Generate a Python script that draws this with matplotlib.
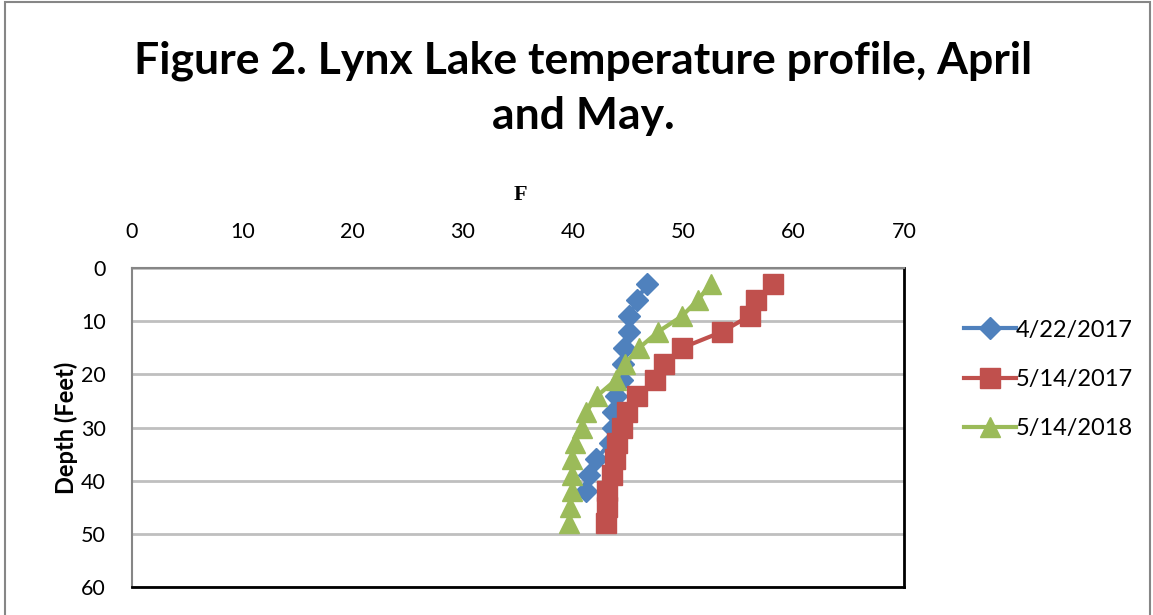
import matplotlib.pyplot as plt
from matplotlib.patches import Rectangle

# depth (feet) and temperature (F) for each profile
depth_a = [3, 6, 9, 12, 15, 18, 21, 24, 27, 30, 33, 36, 39, 42]
temp_a = [46.7, 45.8, 45.1, 45.1, 44.6, 44.5, 44.4, 43.9, 43.6, 43.6, 43.3, 42.1, 41.4, 41.2]

depth_b = [3, 6, 9, 12, 15, 18, 21, 24, 27, 30, 33, 36, 39, 42, 45, 48]
temp_b = [58.1, 56.6, 56.0, 53.5, 49.9, 48.2, 47.4, 45.8, 44.9, 44.4, 44.0, 43.8, 43.5, 43.1, 43.1, 43.0]

depth_c = [3, 6, 9, 12, 15, 18, 21, 24, 27, 30, 33, 36, 39, 42, 45, 48]
temp_c = [52.5, 51.3, 49.9, 47.7, 46.0, 44.7, 43.9, 42.2, 41.2, 40.8, 40.2, 39.9, 39.9, 39.9, 39.7, 39.6]

labels = ['4/22/2017', '5/14/2017', '5/14/2018']

plt.rcParams['font.family'] = ['Lato', 'DejaVu Sans']

fig = plt.figure(figsize=(11.53, 6.15), dpi=100)
ax = fig.add_axes([0.1145, 0.0455, 0.6695, 0.5187])

ax.plot(temp_a, depth_a, color='#4F81BD', lw=3, marker='D', ms=11, label=labels[0], zorder=3)
ax.plot(temp_b, depth_b, color='#C0504D', lw=3, marker='s', ms=14, label=labels[1], zorder=4)
ax.plot(temp_c, depth_c, color='#9BBB59', lw=3, marker='^', ms=15, label=labels[2], zorder=5)

ax.set_xlim(0, 70)
ax.set_ylim(60, 0)
ax.set_xticks(range(0, 71, 10))
ax.set_yticks(range(0, 61, 10))
ax.xaxis.tick_top()
ax.tick_params(length=0, labelsize=15.5, pad=19)
ax.grid(axis='y', color='#BFBFBF', lw=2)
ax.set_axisbelow(True)

for side in ['left', 'top']:
    ax.spines[side].set_color('#868686')
    ax.spines[side].set_linewidth(1.5)
for side in ['right', 'bottom']:
    ax.spines[side].set_color('black')
    ax.spines[side].set_linewidth(2)

ax.set_ylabel('Depth (Feet)', fontsize=17, fontweight='bold', labelpad=2)

fig.text(0.451, 0.683, 'F', fontsize=16, fontweight='bold', family='Liberation Serif',
         ha='center', va='center')
fig.text(0.506, 0.857, 'Figure 2. Lynx Lake temperature profile, April\nand May.',
         fontsize=32, fontweight='bold', ha='center', va='center', linespacing=1.45)

ax.legend(loc='upper left', bbox_to_anchor=(1.05, 0.905), frameon=False, fontsize=17,
          handlelength=2.2, handletextpad=0.0, labelspacing=1.2)

# outer chart border
fig.patches.append(Rectangle((5 / 1153, -0.01), 1145 / 1153, 1.007, transform=fig.transFigure,
                             fill=False, edgecolor='#868686', lw=1.5))

fig.savefig('out.png', dpi=100)
